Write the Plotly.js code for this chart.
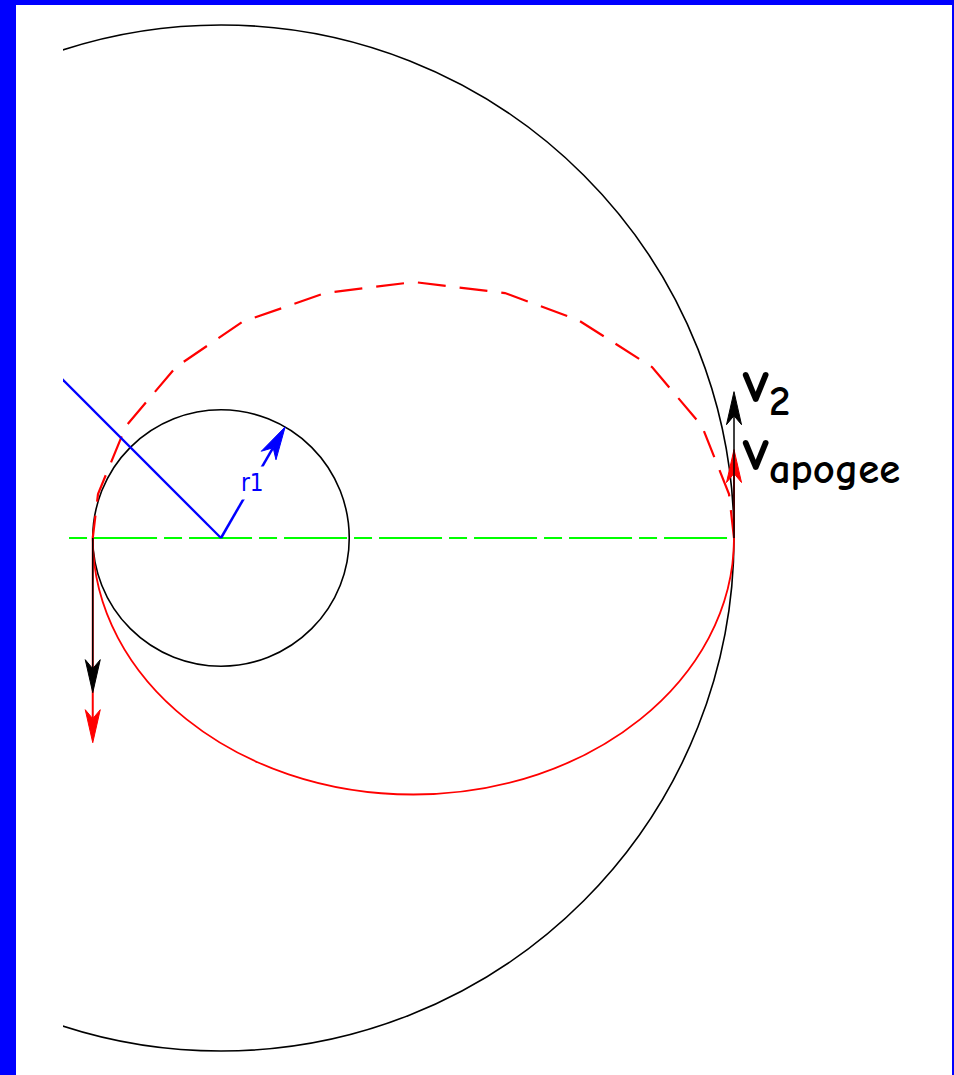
<!DOCTYPE html>
<html><head><meta charset="utf-8">
<script src="https://cdn.plot.ly/plotly-3.0.1.min.js"></script>
<style>
html,body{margin:0;padding:0;background:#0000ff;width:954px;height:1075px;overflow:hidden;}
#plot{position:absolute;left:16px;top:5px;width:936px;height:1070px;background:#fff;}
</style></head><body><div id="plot"></div>
<script>
// ---- data (units of r1) ----
const radii = [1, 4];                 // inner orbit r1, outer orbit r2
const r1Label = ['r1'];
const r1Angle = [60];                 // deg, direction of r1 arrow
const r2LineAngle = [135];            // deg, blue radius of outer orbit
// transfer ellipse, upper half (dashed polyline)
const upperX = [4.0, 3.961, 3.750, 3.361, 2.784, 2.214, 1.505, 0.811, 0.164, -0.351, -0.741, -0.959, -1.0];
const upperY = [0, 0.343, 0.873, 1.333, 1.700, 1.910, 1.996, 1.910, 1.684, 1.333, 0.873, 0.343, 0];
// velocity vector lengths
const vBlack = [1.206, 1.141];        // circular speeds at r1 (down), r2 (up)
const vRed = [1.596, 0.69];           // transfer speeds at perigee (down), apogee (up)
const velLabels = ['v<sub>2</sub>', 'v<sub>apogee</sub>'];
const axisLine = [-1.185, 4.0];       // green apse line x extent

// ---- layout geometry ----
const W = 936, H = 1070, ML = 47;
const xr = [-1.2320, 5.6998], yr = [-4.1871, 4.1559];
const PX = (W - ML) / (xr[1] - xr[0]);
const HL = 33 / PX, NOTCH = 9 / PX;

function arrow(x0, y0, x1, y1, color, w, hw) {
  hw = (hw || 15) / PX;
  const dx = x1 - x0, dy = y1 - y0, len = Math.hypot(dx, dy);
  const ux = dx / len, uy = dy / len, nx = -uy, ny = ux;
  const bx = x1 - HL * ux, by = y1 - HL * uy;
  const mx = x1 - (HL - NOTCH) * ux, my = y1 - (HL - NOTCH) * uy;
  return [
    {x: [x0, mx], y: [y0, my], mode: 'lines', line: {color: color, width: w}, hoverinfo: 'skip'},
    {x: [x1, bx + nx * hw / 2, mx, bx - nx * hw / 2, x1],
     y: [y1, by + ny * hw / 2, my, by - ny * hw / 2, y1],
     mode: 'lines', fill: 'toself', fillcolor: color, line: {color: color, width: 1}, hoverinfo: 'skip'}
  ];
}

const r1 = radii[0], r2 = radii[1];
const traces = [];
// green apse line
traces.push({x: axisLine, y: [0, 0], mode: 'lines', line: {color: '#00ff00', width: 2, dash: '18px,7px,63px,7px'}, hoverinfo: 'skip'});
// dashed upper half of transfer ellipse
traces.push({x: upperX, y: upperY, mode: 'lines', line: {color: '#ff0000', width: 2.2, dash: '28px,14px'}, hoverinfo: 'skip'});
// blue radius line of outer orbit
const a2 = r2LineAngle[0] * Math.PI / 180;
traces.push({x: [0, r2 * Math.cos(a2)], y: [0, r2 * Math.sin(a2)], mode: 'lines', line: {color: '#0000ff', width: 2.3}, hoverinfo: 'skip'});
// r1 arrow
const a1 = r1Angle[0] * Math.PI / 180;
traces.push(...arrow(0, 0, r1 * Math.cos(a1), r1 * Math.sin(a1), '#0000ff', 2.5, 17));
// red velocity arrows
traces.push(...arrow(-r1, 0, -r1, -vRed[0], '#ff0000', 2));
traces.push(...arrow(r2, 0, r2, vRed[1], '#ff0000', 2));
// black velocity arrows
traces.push(...arrow(-r1, 0, -r1, -vBlack[0], '#000000', 1.5));
traces.push(...arrow(r2, 0, r2, vBlack[1], '#000000', 1.5));

// ellipse lower half (solid)
const cx = (r2 - r1) / 2, ea = (r1 + r2) / 2, eb = Math.sqrt(r1 * r2), k = 0.5523;
const lowerPath = `M ${cx - ea},0 C ${cx - ea},${-k * eb} ${cx - k * ea},${-eb} ${cx},${-eb} C ${cx + k * ea},${-eb} ${cx + ea},${-k * eb} ${cx + ea},0`;

const shapes = radii.map(r => ({type: 'circle', xref: 'x', yref: 'y', x0: -r, y0: -r, x1: r, y1: r, line: {color: '#000', width: 1.6}, layer: 'below'}));
shapes.push({type: 'path', xref: 'x', yref: 'y', path: lowerPath, line: {color: '#ff0000', width: 1.8}, layer: 'below'});

const labFont = {family: '"Comic Sans MS", "Comic Neue", Lato, sans-serif', size: 61, color: '#000', weight: 'bold'};
const annotations = [
  {x: r2 + 6 / PX, y: vBlack[1] + 0.04, xref: 'x', yref: 'y', xanchor: 'left', yanchor: 'middle', text: velLabels[0], showarrow: false, font: labFont},
  {x: r2 + 6 / PX, y: vRed[1] - 0.04, xref: 'x', yref: 'y', xanchor: 'left', yanchor: 'middle', text: velLabels[1], showarrow: false, font: labFont},
  {x: 0.495 * r1 * Math.cos(a1), y: 0.495 * r1 * Math.sin(a1), xref: 'x', yref: 'y', xanchor: 'center', yanchor: 'middle', text: r1Label[0], showarrow: false,
   bgcolor: '#ffffff', borderpad: 2, font: {family: '"Liberation Sans Narrow", "DejaVu Sans Condensed", "Arial Narrow", sans-serif', size: 24, color: '#0000ff'}}
];

const layout = {
  width: W, height: H, margin: {l: ML, r: 0, t: 0, b: 0},
  paper_bgcolor: '#ffffff', plot_bgcolor: '#ffffff', showlegend: false, hovermode: false,
  xaxis: {range: xr, visible: false, fixedrange: true},
  yaxis: {range: yr, visible: false, fixedrange: true},
  shapes: shapes, annotations: annotations
};
Plotly.newPlot('plot', traces, layout, {staticPlot: true, displayModeBar: false});
</script></body></html>
